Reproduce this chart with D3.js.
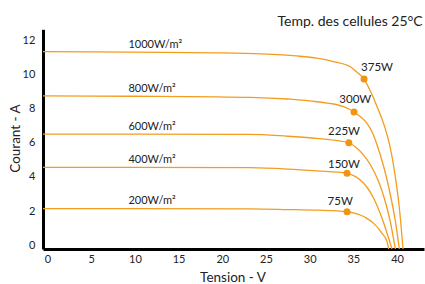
<!DOCTYPE html>
<html>
<head>
<meta charset="utf-8">
<script src="https://cdn.jsdelivr.net/npm/d3@7"></script>
<style>
  html, body { margin: 0; padding: 0; background: #fff; }
  svg { display: block; font-family: Lato, "Open Sans", sans-serif; }
</style>
</head>
<body>
<svg id="chart" width="425" height="284"></svg>
<script>
// ---- Data ----
const irradianceLabels = ["1000W/m²", "800W/m²", "600W/m²", "400W/m²", "200W/m²"];

// [tension V, courant A]
const curve1000 = [[0,11.55],[10,11.52],[20,11.48],[25,11.42],[29,11.3],[31.35,11.17],[33.25,10.97],[35.17,10.67],[35.93,10.35],[36.74,9.95],[37.5,9.2],[38.23,8.33],[39.0,7.3],[39.67,6.09],[40.3,4.3],[40.8,2.3],[41.2,0]];
const curve800  = [[0,8.96],[10,8.94],[20,8.9],[23.7,8.88],[28,8.78],[31.35,8.62],[34.4,8.33],[35.59,8.02],[36.3,7.75],[37.08,7.36],[37.7,6.8],[38.23,6.09],[39.0,4.8],[39.7,3.3],[40.3,1.7],[40.78,0]];
const curve600  = [[0,6.73],[10,6.73],[23.7,6.71],[28,6.6],[31.35,6.48],[33.5,6.36],[35.0,6.22],[35.8,5.95],[36.6,5.55],[37.5,4.9],[38.4,3.95],[39.1,2.9],[39.7,1.7],[40.32,0]];
const curve400  = [[0,4.78],[10,4.78],[23.7,4.76],[28,4.68],[31.35,4.57],[34.79,4.43],[35.6,4.28],[36.31,4.04],[37.1,3.6],[37.84,2.97],[38.8,1.8],[39.37,0.92],[39.94,0]];
const curve200  = [[0,2.36],[10,2.36],[23.7,2.35],[28,2.31],[31.35,2.27],[34.79,2.18],[35.6,2.1],[36.31,1.99],[37.1,1.78],[37.84,1.50],[38.8,0.92],[39.37,0.43],[39.55,0]];

const mppVoltage = [36.74, 35.59, 35.0, 34.79, 34.79];
const mppCurrent = [9.95, 8.02, 6.22, 4.43, 2.18];
const powerLabels = ["375W", "300W", "225W", "150W", "75W"];

const xTicks = [0, 5, 10, 15, 20, 25, 30, 35, 40];
const yTicks = [0, 2, 4, 6, 8, 10, 12];
const xDomain = [0, 43.6];
const yDomain = [0, 12.86];

const titleText = "Temp. des cellules 25°C";
const xTitle = "Tension - V";
const yTitle = "Courant - A";

// ---- Styling / layout ----
const curves = [curve1000, curve800, curve600, curve400, curve200];
const lineColor = "#F39C1E";
const dotColor = "#F29312";
const textColor = "#222";
const labelDx = [-3, -14.7, -20.8, -19, -19.4];
const labelDy = [-8.3, -8.7, -8.2, -5.8, -6.7];

const svg = d3.select("#chart");
const x = d3.scaleLinear().domain(xDomain).range([43, 424]);
const y = d3.scaleLinear().domain(yDomain).range([249, 29.3]);

// Axes
const gx = svg.append("g").attr("transform", `translate(0,${y(0)})`)
  .call(d3.axisBottom(x).tickValues(xTicks).tickSize(0).tickSizeOuter(0).tickPadding(6));
gx.selectAll("text").attr("dx", 4.5).attr("font-size", 11).attr("fill", textColor)
  .attr("font-family", "Lato, sans-serif");

const gy = svg.append("g").attr("transform", `translate(${x(0)},0)`)
  .call(d3.axisLeft(y).tickValues(yTicks).tickSize(0).tickSizeOuter(0).tickPadding(7.7));
gy.selectAll("text").attr("y", -4.3).attr("font-size", 11).attr("fill", textColor)
  .attr("font-family", "Lato, sans-serif");

svg.selectAll(".domain").attr("stroke", "#000").attr("stroke-width", 3);

// Curves
const line = d3.line().x(d => x(d[0])).y(d => y(d[1])).curve(d3.curveMonotoneX);
svg.append("g").selectAll("path").data(curves).join("path")
  .attr("d", line).attr("fill", "none").attr("stroke", lineColor).attr("stroke-width", 1.3);

// Irradiance labels
svg.append("g").selectAll("text").data(curves).join("text")
  .attr("x", d => x(d[1][0]) - 2)
  .attr("y", d => y(d[1][1]) - 4.3)
  .attr("font-size", 11).attr("fill", textColor)
  .text((d, i) => irradianceLabels[i]);

// MPP dots
svg.append("g").selectAll("circle").data(mppVoltage).join("circle")
  .attr("cx", d => x(d)).attr("cy", (d, i) => y(mppCurrent[i]))
  .attr("r", 3.5).attr("fill", dotColor);

svg.append("g").selectAll("text").data(powerLabels).join("text")
  .attr("x", (d, i) => x(mppVoltage[i]) + labelDx[i])
  .attr("y", (d, i) => y(mppCurrent[i]) + labelDy[i])
  .attr("font-size", 11.5).attr("fill", textColor)
  .text(d => d);

// Titles
svg.append("text").attr("x", 422.7).attr("y", 26).attr("text-anchor", "end")
  .attr("font-size", 14).attr("fill", textColor).text(titleText);
svg.append("text").attr("x", 233).attr("y", 282).attr("text-anchor", "middle")
  .attr("font-size", 13.5).attr("fill", textColor).text(xTitle);
svg.append("text").attr("transform", "translate(19.5,138.5) rotate(-90)")
  .attr("text-anchor", "middle").attr("font-size", 13.5).attr("fill", textColor).text(yTitle);
</script>
</body>
</html>
